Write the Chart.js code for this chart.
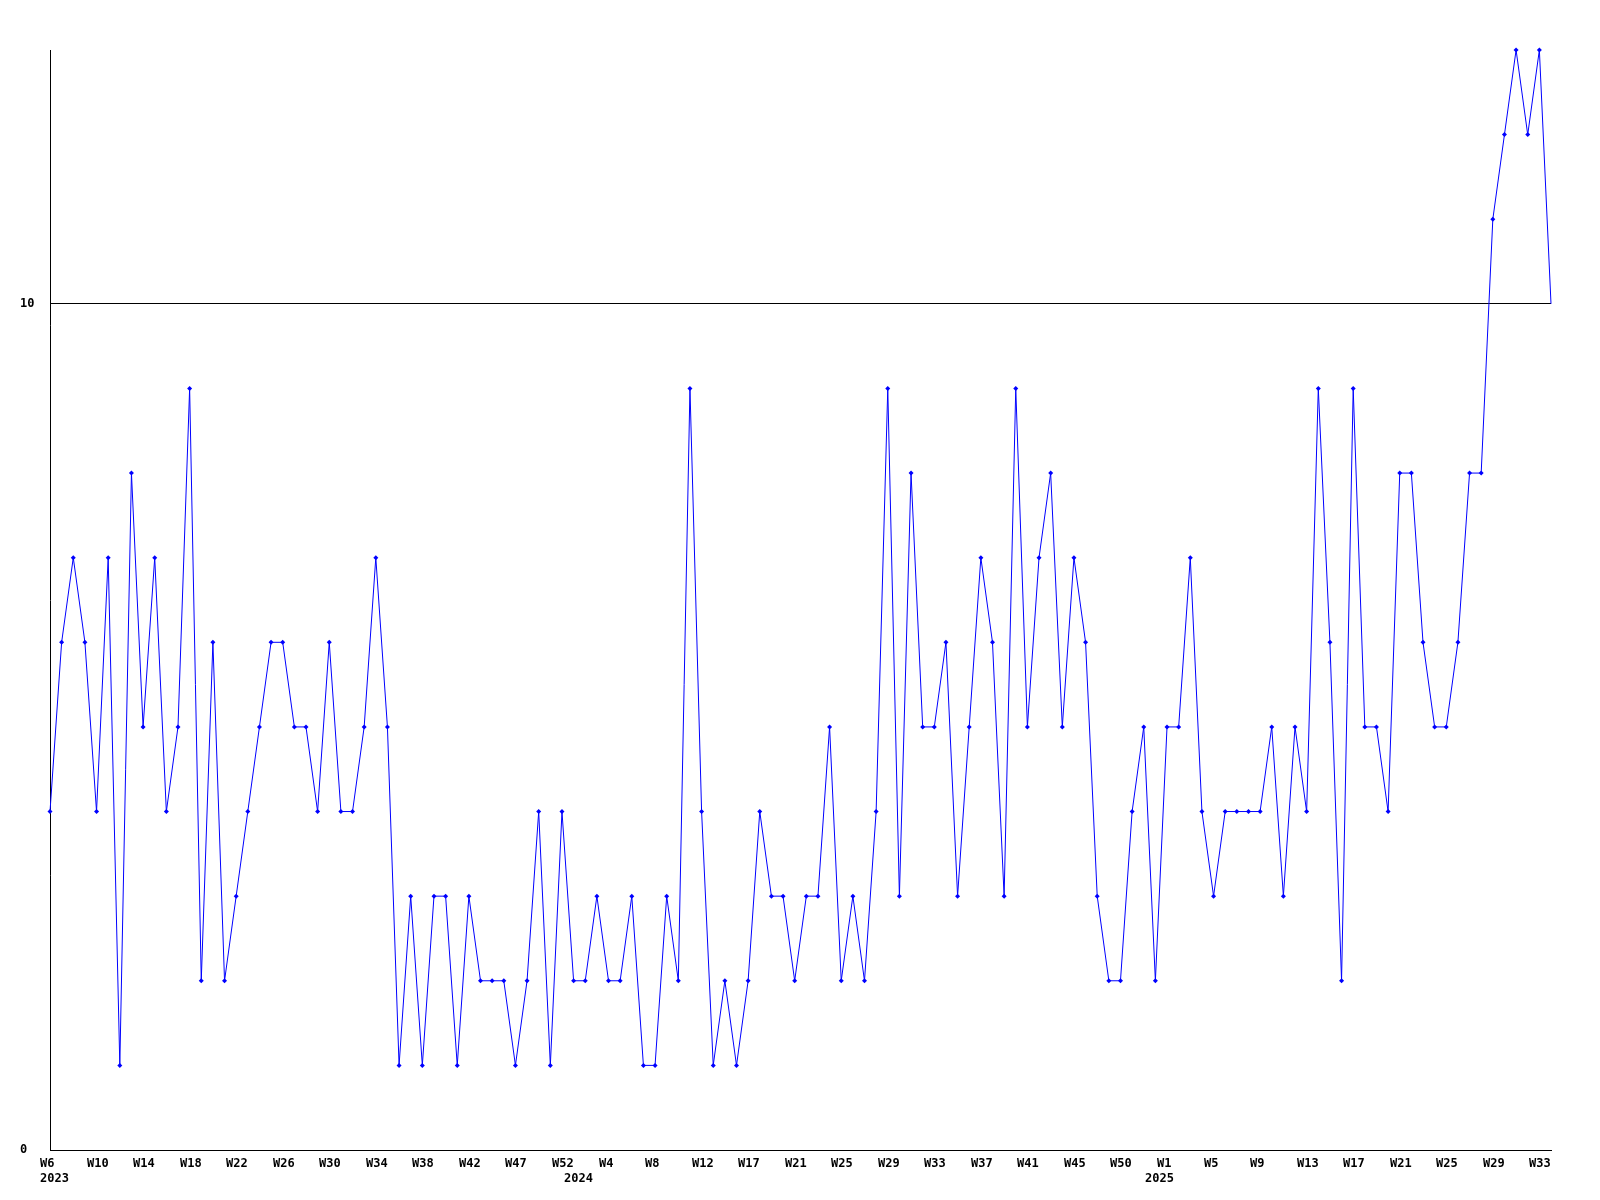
<!DOCTYPE html>
<html>
<head>
<meta charset="utf-8">
<script src="https://cdn.jsdelivr.net/npm/chart.js@4.4.1/dist/chart.umd.min.js"></script>
<style>
  html, body { margin: 0; padding: 0; background: #fff; }
  canvas { display: block; }
</style>
</head>
<body>
<canvas id="chart" width="1600" height="1200"></canvas>
<script>
// weekly counts, W6 2023 .. W34 2025
const values = [
  4, 6, 7, 6, 4, 7, 1, 8, 5, 7, 4, 5, 9, 2, 6, 2, 3, 4, 5, 6,
  6, 5, 5, 4, 6, 4, 4, 5, 7, 5, 1, 3, 1, 3, 3, 1, 3, 2, 2, 2,
  1, 2, 4, 1, 4, 2, 2, 3, 2, 2, 3, 1, 1, 3, 2, 9, 4, 1, 2, 1,
  2, 4, 3, 3, 2, 3, 3, 5, 2, 3, 2, 4, 9, 3, 8, 5, 5, 6, 3, 5,
  7, 6, 3, 9, 5, 7, 8, 5, 7, 6, 3, 2, 2, 4, 5, 2, 5, 5, 7, 4,
  3, 4, 4, 4, 4, 5, 3, 5, 4, 9, 6, 2, 9, 5, 5, 4, 8, 8, 6, 5,
  5, 6, 8, 8, 11, 12, 13, 12, 13, 10
];

// one label every 4th week
const weekTicks = [
  "W6", "W10", "W14", "W18", "W22", "W26", "W30", "W34", "W38", "W42", "W47",
  "W52", "W4", "W8", "W12", "W17", "W21", "W25", "W29", "W33", "W37", "W41",
  "W45", "W50", "W1", "W5", "W9", "W13", "W17", "W21", "W25", "W29", "W33"
];
const tickStep = 4;

const yearLabels = ["2023", "2024", "2025"];
const yearIndex = [0, 45, 95];

const yTicks = [0, 10];

const FONT = "bold 12px 'DejaVu Sans Mono', monospace";

const xLabelsPlugin = {
  id: "xLabels",
  afterDraw(chart) {
    const { ctx, scales, chartArea } = chart;
    const x = scales.x;
    ctx.save();
    ctx.font = FONT;
    ctx.fillStyle = "#000";
    ctx.textAlign = "left";
    ctx.textBaseline = "alphabetic";
    weekTicks.forEach((lbl, i) => {
      const px = x.getPixelForValue(i * tickStep);
      ctx.fillText(lbl, Math.round(px) - 10, chartArea.bottom + 17);
    });
    yearLabels.forEach((lbl, i) => {
      const px = x.getPixelForValue(yearIndex[i]);
      ctx.fillText(lbl, Math.round(px) - 10, chartArea.bottom + 32);
    });
    ctx.restore();
  }
};

new Chart(document.getElementById("chart").getContext("2d"), {
  type: "line",
  data: {
    labels: values.map((_, i) => i),
    datasets: [{
      data: values,
      borderColor: "#0000ff",
      backgroundColor: "#0000ff",
      borderWidth: 1,
      tension: 0,
      fill: false,
      pointStyle: "rectRot",
      pointRadius: values.map((_, i) => (i === values.length - 1 ? 0 : 2.5)),
      pointBorderWidth: 0,
      pointBackgroundColor: "#0000ff",
      clip: false
    }]
  },
  options: {
    responsive: false,
    animation: false,
    events: [],
    layout: { padding: { left: 20, top: 50, right: 49, bottom: 50 } },
    plugins: {
      legend: { display: false },
      tooltip: { enabled: false }
    },
    scales: {
      x: {
        type: "category",
        offset: false,
        grid: { display: false, drawTicks: false },
        border: { display: true, color: "#000", width: 1 },
        ticks: { display: false },
        afterFit: (axis) => { axis.height = 0; }
      },
      y: {
        min: 0,
        max: 13,
        afterBuildTicks: (axis) => { axis.ticks = yTicks.map((v) => ({ value: v })); },
        grid: { color: "#000", lineWidth: 1, drawTicks: false },
        border: { display: true, color: "#000", width: 1 },
        ticks: {
          crossAlign: "far",
          padding: 0,
          color: "#000",
          font: { family: "'DejaVu Sans Mono', monospace", size: 12, weight: "bold" }
        },
        afterFit: (axis) => { axis.width = 30; }
      }
    }
  },
  plugins: [xLabelsPlugin]
});
</script>
</body>
</html>
